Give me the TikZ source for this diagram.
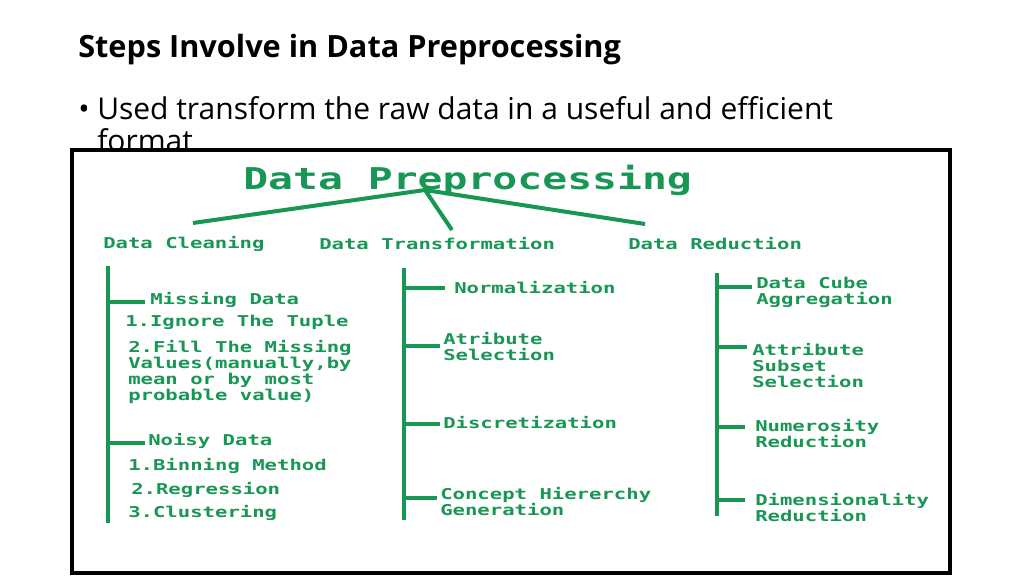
\documentclass[tikz,border=0pt]{standalone}
\usepackage{fontspec}
\setmainfont{Open Sans}
\newfontfamily\pix[FakeStretch=1.38]{DejaVu Sans Mono Bold}
\definecolor{gr}{RGB}{24,150,84}
\begin{document}
\begin{tikzpicture}[x=0.75pt,y=-0.75pt,
  sm/.style={inner sep=0,anchor=north west,align=left,text=gr,font=\pix\fontsize{11.2pt}{12pt}\selectfont},
  hd/.style={inner sep=0,anchor=west,text=gr,font=\pix\fontsize{11.2pt}{12pt}\selectfont},
  gl/.style={draw=gr,line width=3pt}]
\useasboundingbox (0,0) rectangle (1024,575);
\node[inner sep=0,anchor=west,font=\bfseries\fontsize{23pt}{26pt}\selectfont] (ttl) at (78,50) {Steps Involve in Data Preprocessing};
\node[inner sep=0,anchor=west,font=\fontsize{22.5pt}{24pt}\selectfont] (bul) at (78,112) {•};
\node[inner sep=0,anchor=north west,align=left,font=\fontsize{22.5pt}{24pt}\selectfont] (btx) at (97,96) {Used transform the raw data in a useful and efficient\\format};
\draw[line width=3pt,fill=white] (72,150) rectangle (950,573);
\node[inner sep=0,anchor=west,text=gr,font=\pix\fontsize{22.5pt}{24pt}\selectfont] (main) at (243,180) {Data Preprocessing};
\coordinate (root) at (425,190);
\coordinate (l1) at (193,223);
\coordinate (l2) at (452,230);
\coordinate (l3) at (645,224);
\draw[gl] (l1) -- (root) -- (l3) (root) -- (l2);
\node[hd] (dc) at (103,244) {Data Cleaning};
\node[hd] (dt) at (319,244) {Data Transformation};
\node[hd] (dr) at (628,244) {Data Reduction};
% column 1
\node[sm] (md) at (150,292) {Missing Data};
\node[sm] (ig) at (125,315) {1.Ignore The Tuple};
\node[sm] (fi) at (128,340) {2.Fill The Missing\\Values(manually,by\\mean or by most\\probable value)};
\node[sm] (nd) at (148,433) {Noisy Data};
\node[sm] (bi) at (128,458) {1.Binning Method};
\node[sm] (re) at (131,482) {2.Regression};
\node[sm] (cl) at (128,505) {3.Clustering};
\coordinate (c1t) at (108,266); \coordinate (c1b) at (108,523);
\draw[gl] (c1t) -- (c1b);
\coordinate (b1) at (108,302); \coordinate (b2) at (108,443);
\draw[gl] (b1) -- ++(37,0) (b2) -- ++(37,0);
% column 2
\node[sm] (no) at (454,281) {Normalization};
\node[sm] (at) at (443,332) {Atribute\\Selection};
\node[sm] (di) at (443,416) {Discretization};
\node[sm] (co) at (440,487) {Concept Hiererchy\\Generation};
\coordinate (c2t) at (404,268); \coordinate (c2b) at (404,520);
\draw[gl] (c2t) -- (c2b);
\draw[gl] (404,288) -- (445,288) (404,346) -- (440,346) (404,424) -- (440,424) (404,498) -- (437,498);
% column 3
\node[sm] (cu) at (756,277) {Data Cube\\Aggregation};
\node[sm] (as) at (752,343) {Attribute\\Subset\\Selection};
\node[sm] (nu) at (755,419) {Numerosity\\Reduction};
\node[sm] (dm) at (755,493) {Dimensionality\\Reduction};
\coordinate (c3t) at (717,273); \coordinate (c3b) at (717,516);
\draw[gl] (c3t) -- (c3b);
\draw[gl] (717,287) -- (752,287) (717,347) -- (747,347) (717,427) -- (745,427) (717,500) -- (745,500);
\end{tikzpicture}
\end{document}
